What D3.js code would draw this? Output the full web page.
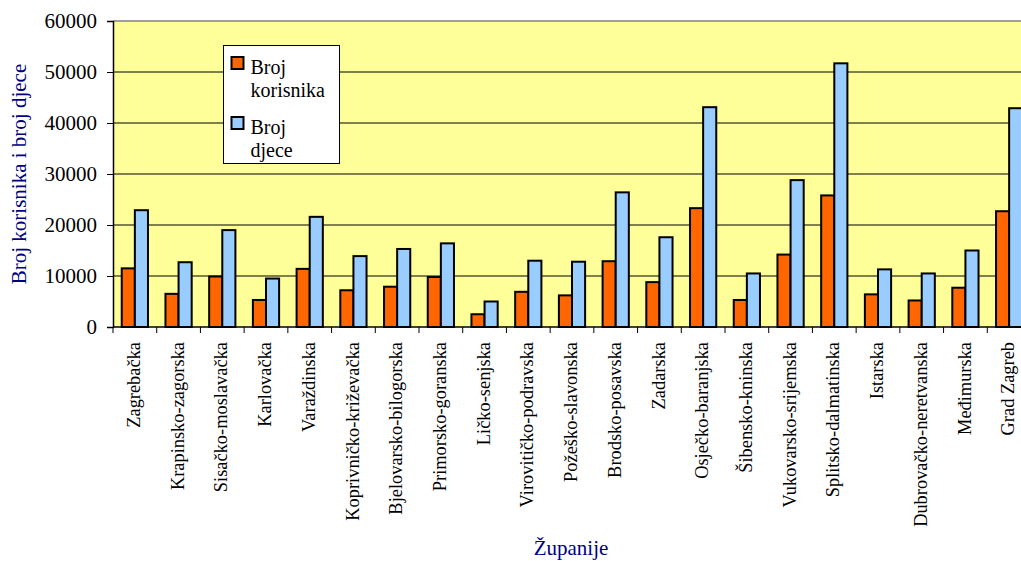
<!DOCTYPE html>
<html>
<head>
<meta charset="utf-8">
<script src="https://cdn.jsdelivr.net/npm/d3@7"></script>
<style>
  body { margin: 0; background: #fff; }
  svg text { font-family: "Liberation Serif", "Times New Roman", "DejaVu Serif", serif !important; }
</style>
</head>
<body>
<svg id="chart"></svg>
<script>
// data
const zupanije = ["Zagrebačka", "Krapinsko-zagorska", "Sisačko-moslavačka", "Karlovačka",
  "Varaždinska", "Koprivničko-križevačka", "Bjelovarsko-bilogorska", "Primorsko-goranska",
  "Ličko-senjska", "Virovitičko-podravska", "Požeško-slavonska", "Brodsko-posavska",
  "Zadarska", "Osječko-baranjska", "Šibensko-kninska", "Vukovarsko-srijemska",
  "Splitsko-dalmatinska", "Istarska", "Dubrovačko-neretvanska", "Međimurska", "Grad Zagreb"];
const brojKorisnika = [11500, 6500, 9900, 5300, 11400, 7200, 7900, 9800, 2500, 6900, 6200,
  12900, 8800, 23300, 5300, 14200, 25800, 6400, 5200, 7700, 22700];
const brojDjece = [22900, 12700, 19000, 9500, 21600, 13900, 15300, 16400, 5000, 13000, 12800,
  26400, 17600, 43100, 10500, 28800, 51700, 11300, 10500, 15000, 42900];
const yTicks = [0, 10000, 20000, 30000, 40000, 50000, 60000];
const legendLines = [["Broj", "korisnika"], ["Broj", "djece"]];
const seriesColors = ["#ff6600", "#99ccff"];

const width = 1021, height = 561;
const margin = { top: 21, right: -10, bottom: 234, left: 113 };
const innerW = width - margin.left - margin.right;
const innerH = height - margin.top - margin.bottom;

const svg = d3.select("#chart").attr("width", width).attr("height", height);
const chart = svg.append("g").attr("transform", `translate(${margin.left},${margin.top})`);

const x = d3.scaleBand().domain(zupanije).range([0, innerW]).paddingInner(0.4).paddingOuter(0.2);
const xSub = d3.scaleBand().domain([0, 1]).range([0, x.bandwidth()]);
const y = d3.scaleLinear().domain([0, 60000]).range([innerH, 0]);

// plot background
chart.append("rect")
  .attr("width", innerW).attr("height", innerH)
  .attr("fill", "#ffff99");

// gridlines
chart.append("g")
  .selectAll("line")
  .data(yTicks.slice(1, -1))
  .join("line")
  .attr("x1", 0).attr("x2", innerW)
  .attr("y1", d => y(d)).attr("y2", d => y(d))
  .attr("stroke", "#000").attr("stroke-width", 1);

// top border
chart.append("line")
  .attr("x1", 0).attr("x2", innerW).attr("y1", 0).attr("y2", 0)
  .attr("stroke", "#808080").attr("stroke-width", 1.5);

// bars
const rows = zupanije.map((z, i) => ({ z, vals: [brojKorisnika[i], brojDjece[i]] }));
const groups = chart.append("g").selectAll("g")
  .data(rows).join("g")
  .attr("transform", d => `translate(${x(d.z)},0)`);
groups.selectAll("rect")
  .data(d => d.vals.map((v, k) => ({ v, k })))
  .join("rect")
  .attr("x", d => xSub(d.k))
  .attr("y", d => y(d.v))
  .attr("width", xSub.bandwidth())
  .attr("height", d => innerH - y(d.v))
  .attr("fill", d => seriesColors[d.k])
  .attr("stroke", "#000").attr("stroke-width", 2);

// y axis
const yAxis = d3.axisLeft(y).tickValues(yTicks).tickSize(6).tickPadding(10).tickFormat(d3.format("d"));
const yg = chart.append("g").call(yAxis).attr("font-family", null).attr("font-size", null);
yg.select(".domain").attr("stroke", "#000").attr("stroke-width", 1.5);
yg.selectAll("text").attr("font-size", 21).attr("fill", "#000");

// x axis with ticks on category boundaries
const step = x.step();
const xg = chart.append("g").attr("transform", `translate(0,${innerH})`);
xg.append("line").attr("x1", 0).attr("x2", innerW).attr("stroke", "#000").attr("stroke-width", 1.5);
xg.selectAll(".tick")
  .data(d3.range(zupanije.length + 1))
  .join("line")
  .attr("x1", i => i * step).attr("x2", i => i * step)
  .attr("y1", 0).attr("y2", 6)
  .attr("stroke", "#000");
xg.selectAll("text")
  .data(zupanije)
  .join("text")
  .attr("transform", d => `translate(${x(d) + x.bandwidth() / 2 - 1},15) rotate(-90)`)
  .attr("text-anchor", "end")
  .attr("dy", "0.33em")
  .attr("font-size", 18.4)
  .attr("fill", "#000")
  .text(d => d);

// axis titles
svg.append("text")
  .attr("transform", `translate(26,${margin.top + innerH / 2}) rotate(-90)`)
  .attr("text-anchor", "middle")
  .attr("font-size", 21)
  .attr("fill", "#000080")
  .text("Broj korisnika i broj djece");

svg.append("text")
  .attr("x", 571).attr("y", 555)
  .attr("text-anchor", "middle")
  .attr("font-size", 21)
  .attr("fill", "#000080")
  .text("Županije");

// legend
const legend = svg.append("g").attr("transform", "translate(223.5,45.5)");
legend.append("rect")
  .attr("width", 116).attr("height", 118)
  .attr("fill", "#fff").attr("stroke", "#000").attr("stroke-width", 1);
const items = legend.selectAll("g.item")
  .data(legendLines).join("g")
  .attr("class", "item")
  .attr("transform", (d, i) => `translate(0,${i * 60})`);
items.append("rect")
  .attr("x", 8).attr("y", 11.5).attr("width", 12).attr("height", 12)
  .attr("fill", (d, i) => seriesColors[i])
  .attr("stroke", "#000").attr("stroke-width", 2);
items.selectAll("text")
  .data(d => d)
  .join("text")
  .attr("x", 27)
  .attr("y", (d, i) => 28.5 + i * 23)
  .attr("font-size", 20).attr("fill", "#000")
  .text(d => d);
</script>
</body>
</html>
